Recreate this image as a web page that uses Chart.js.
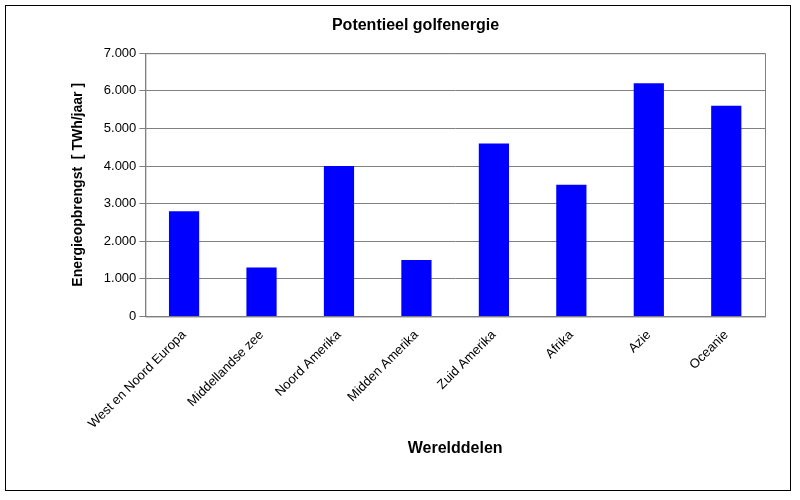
<!DOCTYPE html>
<html><head><meta charset="utf-8">
<script src="https://cdn.jsdelivr.net/npm/chart.js"></script>
<style>body{margin:0;background:#fff}#w{width:800px;height:500px}</style>
</head><body><div id="w"><canvas id="c"></canvas></div>
<script>
const categories=["West en Noord Europa","Middellandse zee","Noord Amerika","Midden Amerika","Zuid Amerika","Afrika","Azie","Oceanie"];
const values=[2800,1300,4000,1500,4600,3500,6200,5600];
const frame={id:'frame',afterDraw(ch){const c=ch.ctx;c.save();c.strokeStyle='#000';c.lineWidth=1;c.strokeRect(5.5,5.5,785,485);
const a=ch.chartArea;c.strokeStyle='#808080';c.strokeRect(a.left+0.5,a.top+0.5,a.right-a.left,a.bottom-a.top);c.restore();}};
new Chart(document.getElementById('c'),{type:'bar',data:{labels:categories,datasets:[{data:values,backgroundColor:'#0000FF',borderColor:'#000080',borderWidth:0,categoryPercentage:1,barPercentage:0.39}]},
options:{responsive:true,maintainAspectRatio:false,animation:false,
layout:{padding:{left:66,right:35,top:8,bottom:38}},
plugins:{legend:{display:false},tooltip:{enabled:false},
title:{display:true,text:'Potentieel golfenergie',color:'#000',font:{family:'Arial, Liberation Sans',size:16,weight:'bold'},padding:{top:8,bottom:18}}},
scales:{x:{grid:{display:false,drawTicks:true},border:{color:'#808080'},ticks:{color:'#000',maxRotation:45,minRotation:45,font:{family:'Arial, Liberation Sans',size:13}},
title:{display:true,text:'Werelddelen',color:'#000',font:{family:'Arial, Liberation Sans',size:16,weight:'bold'},padding:{top:4}}},
y:{min:0,max:7000,ticks:{stepSize:1000,color:'#000',font:{family:'Arial, Liberation Sans',size:13},callback:v=>v.toLocaleString('nl-NL')},
grid:{color:'#808080',tickLength:6},border:{color:'#808080'},
title:{display:true,text:'Energieopbrengst  [ TWh/jaar ]',color:'#000',font:{family:'Arial, Liberation Sans',size:14,weight:'bold'},padding:{bottom:14}}}}},
plugins:[frame]});
</script></body></html>
